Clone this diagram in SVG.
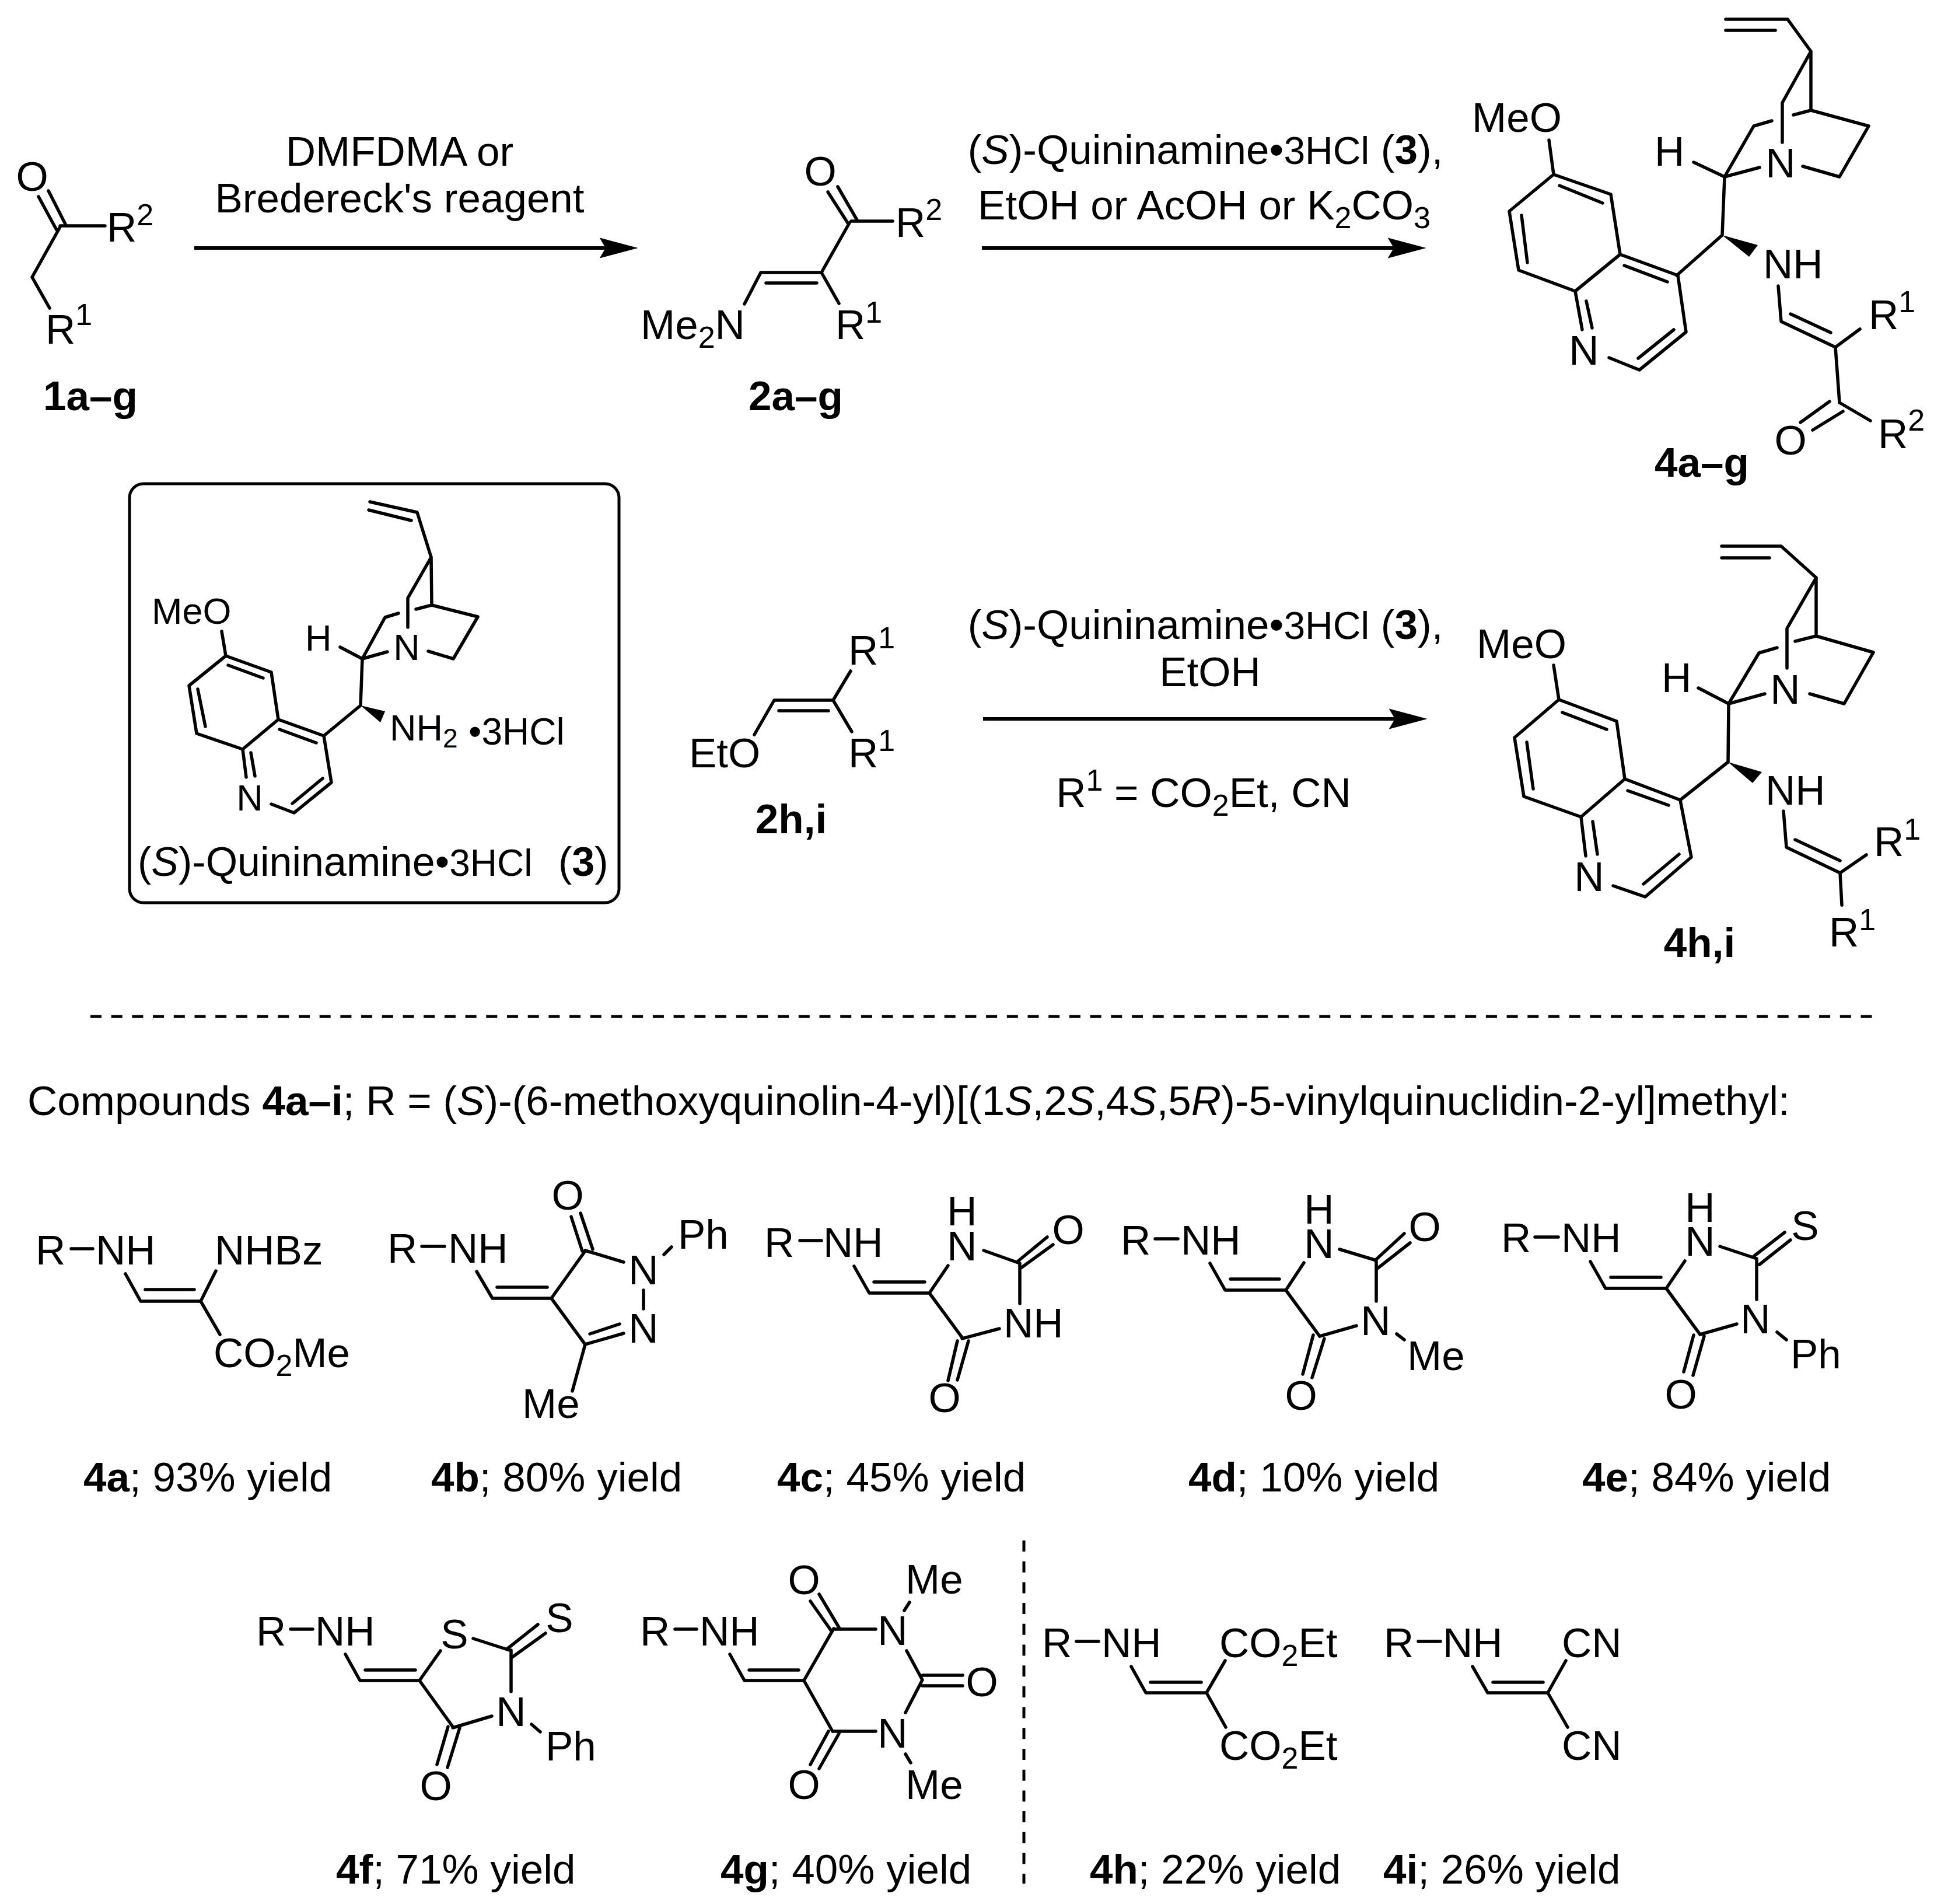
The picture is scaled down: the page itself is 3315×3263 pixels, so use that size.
<svg xmlns="http://www.w3.org/2000/svg" width="3315" height="3263" viewBox="0 0 3315 3263">
<style>
text{font-family:"Liberation Sans",Arial,Helvetica,sans-serif;font-size:71px;fill:#000}
.m{text-anchor:middle}
.b{font-weight:bold}
.i{font-style:italic}
.s{font-size:52px}
.h{font-size:66px}
.k text{font-size:63px}
.k .s{font-size:46px}
.k .t{font-size:70px}
.k .u{font-size:64px}
.bond{fill:none;stroke:#000;stroke-width:5.5;stroke-linecap:round;stroke-linejoin:round}
.wedge{fill:#000}
.arrow{fill:none;stroke:#000;stroke-width:6;marker-end:url(#head)}
.dash{fill:none;stroke:#000;stroke-width:5;stroke-dasharray:19 16.7}
.box{fill:none;stroke:#000;stroke-width:5}
</style>
<defs>
<marker id="head" markerUnits="userSpaceOnUse" markerWidth="66" markerHeight="36" viewBox="0 0 64 34" refX="10" refY="17" orient="auto"><path d="M0 0L64 17L0 34L10 17Z" fill="#000"/></marker>
</defs>
<rect width="3315" height="3263" fill="#fff"/>

<g id="connectors">
<path class="arrow" d="M333 425H1038"/>
<path class="arrow" d="M1683 425H2389"/>
<path class="arrow" d="M1685 1232H2391"/>
<path class="dash" d="M155 1742H3215"/>
<path class="dash" d="M1755 2640V3228"/>
</g>

<g id="cpd1">
<path class="bond" d="M66 337L97 394M83 327L112 384M103 387H180M103 389L55 475L85 528"/>
<text x="55" y="327" class="m">O</text>
<text x="183" y="414">R<tspan class="s" dy="-28">2</tspan></text>
<text x="78" y="589">R<tspan class="s" dy="-32">1</tspan></text>
<text x="155" y="703" class="m b">1a–g</text>
</g>

<g id="reagents1">
<text x="685" y="284" class="m">DMFDMA or</text>
<text x="685" y="364" class="m">Bredereck's reagent</text>
</g>

<g id="cpd2">
<path class="bond" d="M1419 329L1453 382M1436 320L1469 377M1459 379H1530M1456 382L1408 467L1438 520M1408 467H1304L1276 521M1313 485H1400"/>
<text x="1406" y="318" class="m">O</text>
<text x="1535" y="406">R<tspan class="s" dy="-29">2</tspan></text>
<text x="1098" y="581">Me<tspan class="s" dy="15">2</tspan><tspan dy="-15">N</tspan></text>
<text x="1432" y="581">R<tspan class="s" dy="-28">1</tspan></text>
<text x="1364" y="703" class="m b">2a–g</text>
</g>

<g id="reagents2">
<text x="2066" y="281" class="m">(<tspan class="i">S</tspan>)-Quininamine•<tspan class="h">3HCl</tspan> (<tspan class="b">3</tspan>),</text>
<text x="2064" y="376" class="m">EtOH or AcOH or K<tspan class="s" dy="15">2</tspan><tspan dy="-15">CO</tspan><tspan class="s" dy="15">3</tspan></text>
</g>

<g id="cpd4ag">
<path class="bond" d="M2958 33H3064L3104 88V189L3203 216L3153 303L3090 285M2958 52H3043M3104 88L3055 176V244M3104 189L3074 197M3037 207L3006 216L2956 303L3016 287M2956 303L2903 278M2956 303L2952 403L2874 472"/>
<path class="wedge" d="M2952 403L3013 420L2998 440Z"/>
<path class="bond" d="M3048 490L3053 551L3146 595M3069 538L3138 570M3146 595L3188 564M3146 595L3153 690L3206 721M3136 688L3086 724M3159 705L3107 737"/>
<path class="bond" d="M2655 240L2663 299L2761 333L2777 436L2700 499L2603 463L2587 362L2663 299M2673 318L2747 348M2608 369L2618 450M2777 436L2876 472L2890 569L2810 634L2758 613M2784 455L2858 483M2869 565L2808 614M2700 499L2712 565M2719 516L2729 562"/>
<text x="2523" y="226">MeO</text>
<text x="2836" y="284">H</text>
<text x="3052" y="304" class="m">N</text>
<text x="3022" y="477">NH</text>
<text x="3203" y="564">R<tspan class="s" dy="-29">1</tspan></text>
<text x="3069" y="779" class="m">O</text>
<text x="3219" y="768">R<tspan class="s" dy="-30">2</tspan></text>
<text x="2715" y="625" class="m">N</text>
<text x="2917" y="817" class="m b">4a–g</text>
</g>

<g id="cpd3" class="k">
<rect class="box" x="222" y="829" width="839" height="718" rx="24"/>
<path class="bond" d="M634 860L715 878L739 955L740 1037L819 1057L777 1129L734 1116M632 874L705 892M739 955L699 1025V1075M740 1037L713 1044M683 1051L660 1058L621 1129L664 1117M621 1129L583 1109M621 1129L618 1209L555 1261"/>
<path class="wedge" d="M618 1209L660 1219L652 1238Z"/>
<path class="bond" d="M380 1082L387 1124L465 1152L477 1233L416 1284L337 1257L324 1175L387 1124M391 1140L451 1162M339 1181L352 1245M477 1233L555 1261L568 1341L504 1393L465 1378M479 1250L542 1273M553 1334L501 1377M416 1284L422 1332M430 1290L437 1330"/>
<text x="260" y="1069">MeO</text>
<text x="523" y="1115">H</text>
<text x="697" y="1131" class="m">N</text>
<text x="668" y="1269">NH<tspan class="s" dy="12">2</tspan></text>
<text x="803" y="1276" class="u">•3HCl</text>
<text x="428" y="1389" class="m">N</text>
<text x="236" y="1501" class="t">(<tspan class="i">S</tspan>)-Quininamine•<tspan class="u">3HCl</tspan></text>
<text x="957" y="1501" class="t">(<tspan class="b">3</tspan>)</text>
</g>

<g id="cpd2hi">
<path class="bond" d="M1458 1150L1428 1200L1460 1254M1428 1200H1327L1293 1259M1335 1218H1420"/>
<text x="1454" y="1139">R<tspan class="s" dy="-28">1</tspan></text>
<text x="1454" y="1315">R<tspan class="s" dy="-28">1</tspan></text>
<text x="1181" y="1315">EtO</text>
<text x="1356" y="1428" class="m b">2h,i</text>
</g>

<g id="reagents3">
<text x="2066" y="1095" class="m">(<tspan class="i">S</tspan>)-Quininamine•<tspan class="h">3HCl</tspan> (<tspan class="b">3</tspan>),</text>
<text x="2074" y="1176" class="m">EtOH</text>
<text x="2063" y="1383" class="m">R<tspan class="s" dy="-28">1</tspan><tspan dy="28"> = CO</tspan><tspan class="s" dy="15">2</tspan><tspan dy="-15">Et, CN</tspan></text>
</g>

<g id="cpd4hi">
<path class="bond" d="M2951 936H3053L3113 990V1090L3211 1118L3161 1206L3102 1189M2951 956H3033M3113 990L3063 1077V1145M3113 1090L3077 1099M3046 1110L3015 1119L2963 1206L3025 1189M2963 1206L2911 1179M2963 1206L2962 1306L2880 1371"/>
<path class="wedge" d="M2962 1306L3020 1323L3004 1342Z"/>
<path class="bond" d="M3057 1390L3062 1452L3154 1496M3077 1439L3154 1475M3154 1496L3199 1465M3154 1496L3157 1551"/>
<path class="bond" d="M2663 1140L2672 1199L2771 1236L2785 1335L2710 1400L2612 1365L2596 1264L2672 1199M2678 1221L2754 1250M2617 1272L2628 1352M2785 1335L2880 1371L2899 1469L2820 1537L2765 1518M2790 1355L2860 1380M2878 1464L2817 1515M2710 1400L2718 1467M2730 1408L2738 1464"/>
<text x="2531" y="1128">MeO</text>
<text x="2848" y="1186">H</text>
<text x="3060" y="1206" class="m">N</text>
<text x="3026" y="1379">NH</text>
<text x="3212" y="1467">R<tspan class="s" dy="-28">1</tspan></text>
<text x="3135" y="1622">R<tspan class="s" dy="-28">1</tspan></text>
<text x="2724" y="1527" class="m">N</text>
<text x="2913" y="1640" class="m b">4h,i</text>
</g>

<g id="header">
<text x="47" y="1911">Compounds <tspan class="b">4a–i</tspan>; R = (<tspan class="i">S</tspan>)-(6-methoxyquinolin-4-yl)[(1<tspan class="i">S</tspan>,2<tspan class="i">S</tspan>,4<tspan class="i">S</tspan>,5<tspan class="i">R</tspan>)-5-vinylquinuclidin-2-yl]methyl:</text>
</g>

<g id="cpd4a">
<path class="bond" d="M122 2140H159M215 2183L241 2230H344L370 2178M249 2210H333M344 2230L377 2287"/>
<text x="61" y="2167">R</text>
<text x="164" y="2167">NH</text>
<text x="368" y="2167">NHBz</text>
<text x="366" y="2343">CO<tspan class="s" dy="15">2</tspan><tspan dy="-15">Me</tspan></text>
<text x="143" y="2556"><tspan class="b">4a</tspan>; 93% yield</text>
</g>

<g id="cpd4b">
<path class="bond" d="M723 2136H762M817 2179L844 2225H945L1003 2144M852 2206H938M945 2225L1003 2304M979 2085L998 2144M995 2079L1016 2141M1003 2143L1069 2163M1138 2150L1151 2137M1103 2211V2243M1003 2304L1069 2285M1011 2286L1062 2269M1003 2304L981 2384"/>
<text x="664" y="2164">R</text>
<text x="768" y="2164">NH</text>
<text x="973" y="2073" class="m">O</text>
<text x="1103" y="2201" class="m">N</text>
<text x="1162" y="2140">Ph</text>
<text x="1103" y="2301" class="m">N</text>
<text x="895" y="2430">Me</text>
<text x="739" y="2556"><tspan class="b">4b</tspan>; 80% yield</text>
</g>

<g id="cpd4c">
<path class="bond" d="M1371 2126H1408M1464 2170L1490 2216H1593L1625 2169M1498 2197H1585M1593 2216L1649 2292M1686 2143L1748 2165M1744 2162L1795 2120M1750 2173L1805 2133M1748 2165V2234M1713 2277L1649 2294M1625 2366L1641 2298M1641 2365L1660 2298"/>
<text x="1310" y="2154">R</text>
<text x="1411" y="2154">NH</text>
<text x="1649" y="2100" class="m">H</text>
<text x="1649" y="2160" class="m">N</text>
<text x="1831" y="2132" class="m">O</text>
<text x="1720" y="2292">NH</text>
<text x="1619" y="2420" class="m">O</text>
<text x="1332" y="2556"><tspan class="b">4c</tspan>; 45% yield</text>
</g>

<g id="cpd4d">
<path class="bond" d="M1980 2123H2019M2074 2165L2100 2211H2204L2235 2164M2109 2192H2193M2204 2211L2262 2290M2296 2141L2359 2160M2357 2160L2407 2114M2362 2173L2417 2130M2359 2160V2230M2325 2272L2262 2290M2233 2355L2251 2288M2249 2361L2270 2294M2394 2286L2407 2296"/>
<text x="1921" y="2150">R</text>
<text x="2024" y="2150">NH</text>
<text x="2261" y="2097" class="m">H</text>
<text x="2261" y="2156" class="m">N</text>
<text x="2442" y="2127" class="m">O</text>
<text x="2358" y="2288" class="m">N</text>
<text x="2230" y="2416" class="m">O</text>
<text x="2412" y="2348">Me</text>
<text x="2037" y="2556"><tspan class="b">4d</tspan>; 10% yield</text>
</g>

<g id="cpd4e">
<path class="bond" d="M2631 2120H2671M2726 2162L2752 2208H2856L2888 2161M2761 2189H2847M2856 2208L2914 2287M2948 2136L3011 2157M3006 2153L3059 2112M3016 2167L3069 2125M3011 2157V2227M2977 2269L2914 2287M2886 2351L2903 2288M2902 2357L2921 2290M3046 2283L3062 2296"/>
<text x="2573" y="2146">R</text>
<text x="2676" y="2146">NH</text>
<text x="2914" y="2094" class="m">H</text>
<text x="2914" y="2152" class="m">N</text>
<text x="3094" y="2125" class="m">S</text>
<text x="3009" y="2285" class="m">N</text>
<text x="2881" y="2414" class="m">O</text>
<text x="3069" y="2345">Ph</text>
<text x="2712" y="2556"><tspan class="b">4e</tspan>; 84% yield</text>
</g>

<g id="cpd4f">
<path class="bond" d="M498 2792H536M592 2835L617 2880H719L755 2829M626 2862H712M719 2880L776 2959M811 2808L873 2828M869 2826L922 2784M878 2840L935 2799M876 2828V2899M843 2941L776 2961M749 3024L768 2959M767 3029L788 2961M911 2955L926 2968"/>
<text x="439" y="2820">R</text>
<text x="540" y="2820">NH</text>
<text x="779" y="2825" class="m">S</text>
<text x="959" y="2797" class="m">S</text>
<text x="876" y="2958" class="m">N</text>
<text x="747" y="3085" class="m">O</text>
<text x="935" y="3017">Ph</text>
<text x="576" y="3228"><tspan class="b">4f</tspan>; 71% yield</text>
</g>

<g id="cpd4g">
<path class="bond" d="M1157 2792H1194M1251 2835L1276 2880H1378L1429 2791M1284 2862H1369M1378 2880L1427 2967M1389 2744L1425 2795M1404 2732L1438 2789M1429 2792H1501M1550 2760L1559 2746M1554 2829L1581 2879M1581 2871H1650M1581 2889H1650M1581 2879L1552 2935M1427 2967H1501M1389 3024L1420 2967M1404 3031L1438 2971M1552 3006L1561 3021"/>
<text x="1097" y="2820">R</text>
<text x="1199" y="2820">NH</text>
<text x="1378" y="2732" class="m">O</text>
<text x="1530" y="2819" class="m">N</text>
<text x="1552" y="2731">Me</text>
<text x="1683" y="2907" class="m">O</text>
<text x="1530" y="2995" class="m">N</text>
<text x="1378" y="3083" class="m">O</text>
<text x="1552" y="3083">Me</text>
<text x="1235" y="3228"><tspan class="b">4g</tspan>; 40% yield</text>
</g>

<g id="cpd4h">
<path class="bond" d="M1845 2813H1883M1939 2856L1964 2901H2068L2100 2846M1972 2883H2059M2068 2901L2101 2960"/>
<text x="1786" y="2840">R</text>
<text x="1888" y="2840">NH</text>
<text x="2090" y="2840">CO<tspan class="s" dy="15">2</tspan><tspan dy="-15">Et</tspan></text>
<text x="2090" y="3016">CO<tspan class="s" dy="15">2</tspan><tspan dy="-15">Et</tspan></text>
<text x="1868" y="3228"><tspan class="b">4h</tspan>; 22% yield</text>
</g>

<g id="cpd4i">
<path class="bond" d="M2431 2813H2469M2524 2856L2550 2901H2653L2684 2846M2559 2883H2645M2653 2901L2687 2960"/>
<text x="2372" y="2840">R</text>
<text x="2473" y="2840">NH</text>
<text x="2677" y="2840">CN</text>
<text x="2677" y="3016">CN</text>
<text x="2371" y="3228"><tspan class="b">4i</tspan>; 26% yield</text>
</g>
</svg>
